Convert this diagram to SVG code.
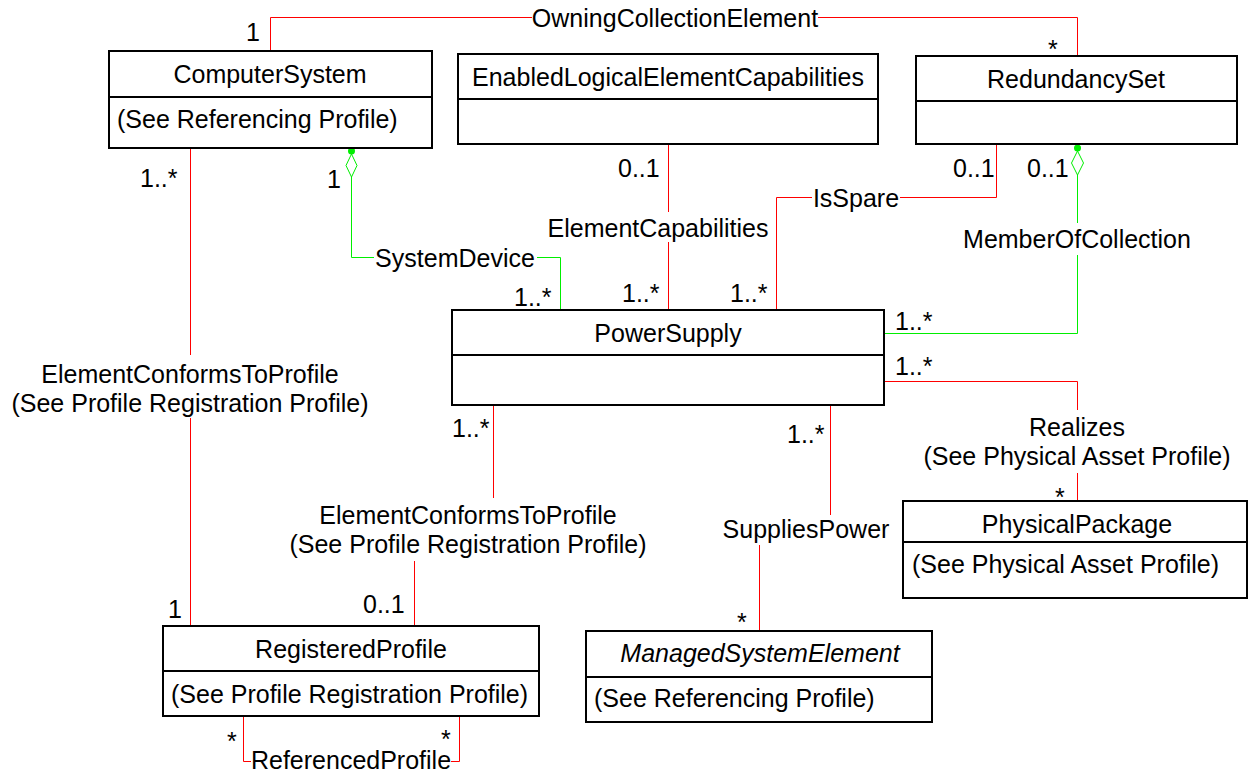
<svg xmlns="http://www.w3.org/2000/svg" width="1249" height="773" viewBox="0 0 1249 773">
<style>
text{font-family:"Liberation Sans",Arial,sans-serif;font-size:25px;fill:#000}
.box{fill:#fff;stroke:#000;stroke-width:2}
.div{stroke:#000;stroke-width:2}
.r{fill:none;stroke:#ff0000;stroke-width:1}
.g{fill:none;stroke:#00ee00;stroke-width:1}
.c{text-anchor:middle}
</style>
<rect width="1249" height="773" fill="#fff"/>
<g id="connectors">
  <!-- OwningCollectionElement -->
  <path class="r" d="M270.5 51 V17.5 H532 M818 17.5 H1077.5 V56"/>
  <text class="c" x="675" y="27">OwningCollectionElement</text>
  <text x="246" y="41">1</text>
  <text x="1048" y="58">*</text>
  <!-- ElementConformsToProfile left -->
  <path class="r" d="M190.5 148 V355 M190.5 418 V626"/>
  <text class="c" x="190" y="383">ElementConformsToProfile</text>
  <text class="c" x="190" y="412">(See Profile Registration Profile)</text>
  <text x="140" y="187">1..*</text>
  <text x="168" y="618">1</text>
  <!-- SystemDevice -->
  <path class="g" d="M351.5 177 V257.5 H374 M537 257.5 H560.5 V310"/>
  <circle cx="351.5" cy="151" r="3.5" fill="#00ee00"/>
  <polygon points="351.5,154 357,165.5 351.5,177 346,165.5" fill="#fff" stroke="#00ee00" stroke-width="1"/>
  <text class="c" x="455" y="267">SystemDevice</text>
  <text x="327" y="188">1</text>
  <text x="514" y="306">1..*</text>
  <!-- ElementCapabilities -->
  <path class="r" d="M668.5 144 V212 M668.5 242 V310"/>
  <text class="c" x="658" y="237">ElementCapabilities</text>
  <text x="618" y="177">0..1</text>
  <text x="622" y="302">1..*</text>
  <!-- IsSpare -->
  <path class="r" d="M776.5 310 V197.5 H812 M900 197.5 H996.5 V144"/>
  <text class="c" x="856" y="207">IsSpare</text>
  <text x="953" y="177">0..1</text>
  <text x="730" y="302">1..*</text>
  <!-- MemberOfCollection -->
  <path class="g" d="M1077.5 175 V223 M1077.5 255 V333.5 H884"/>
  <circle cx="1077.5" cy="148" r="3.5" fill="#00ee00"/>
  <polygon points="1077.5,151 1083.5,163 1077.5,175 1071.5,163" fill="#fff" stroke="#00ee00" stroke-width="1"/>
  <text class="c" x="1077" y="248">MemberOfCollection</text>
  <text x="1027" y="177">0..1</text>
  <text x="895" y="330">1..*</text>
  <!-- Realizes -->
  <path class="r" d="M884 381.5 H1077.5 V410 M1077.5 473 V501"/>
  <text class="c" x="1077" y="436">Realizes</text>
  <text class="c" x="1077" y="465">(See Physical Asset Profile)</text>
  <text x="895" y="375">1..*</text>
  <text x="1055" y="506">*</text>
  <!-- ElementConformsToProfile center -->
  <path class="r" d="M493.5 405 V498 M414.5 561 V626"/>
  <text class="c" x="468" y="524">ElementConformsToProfile</text>
  <text class="c" x="468" y="553">(See Profile Registration Profile)</text>
  <text x="452" y="437">1..*</text>
  <text x="363" y="613">0..1</text>
  <!-- SuppliesPower -->
  <path class="r" d="M830.5 405 V515 M759.5 545 V631"/>
  <text class="c" x="806" y="538">SuppliesPower</text>
  <text x="787" y="443">1..*</text>
  <text x="737" y="631">*</text>
  <!-- ReferencedProfile -->
  <path class="r" d="M243.5 716 V761.5 H251 M451 761.5 H459.5 V716"/>
  <text class="c" x="351" y="769">ReferencedProfile</text>
  <text x="227" y="750">*</text>
  <text x="441" y="748">*</text>
</g>
<g id="ComputerSystem">
  <rect class="box" x="109" y="51" width="323" height="97"/>
  <line class="div" x1="109" y1="97" x2="432" y2="97"/>
  <text class="c" x="270" y="83">ComputerSystem</text>
  <text x="117" y="128">(See Referencing Profile)</text>
</g>
<g id="EnabledLogicalElementCapabilities">
  <rect class="box" x="458" y="54" width="420" height="90"/>
  <line class="div" x1="458" y1="99" x2="878" y2="99"/>
  <text class="c" x="668" y="86">EnabledLogicalElementCapabilities</text>
</g>
<g id="RedundancySet">
  <rect class="box" x="916" y="56" width="321" height="88"/>
  <line class="div" x1="916" y1="101" x2="1237" y2="101"/>
  <text class="c" x="1076" y="88">RedundancySet</text>
</g>
<g id="PowerSupply">
  <rect class="box" x="452" y="310" width="432" height="95"/>
  <line class="div" x1="452" y1="355" x2="884" y2="355"/>
  <text class="c" x="668" y="342">PowerSupply</text>
</g>
<g id="PhysicalPackage">
  <rect class="box" x="903" y="501" width="344" height="97"/>
  <line class="div" x1="903" y1="542" x2="1247" y2="542"/>
  <text class="c" x="1077" y="533">PhysicalPackage</text>
  <text x="912" y="573">(See Physical Asset Profile)</text>
</g>
<g id="RegisteredProfile">
  <rect class="box" x="163" y="626" width="376" height="90"/>
  <line class="div" x1="163" y1="671" x2="539" y2="671"/>
  <text class="c" x="351" y="658">RegisteredProfile</text>
  <text x="171" y="703">(See Profile Registration Profile)</text>
</g>
<g id="ManagedSystemElement">
  <rect class="box" x="586" y="631" width="346" height="91"/>
  <line class="div" x1="586" y1="677" x2="932" y2="677"/>
  <text class="c" x="760" y="662" font-style="italic">ManagedSystemElement</text>
  <text x="594" y="707">(See Referencing Profile)</text>
</g>
</svg>
